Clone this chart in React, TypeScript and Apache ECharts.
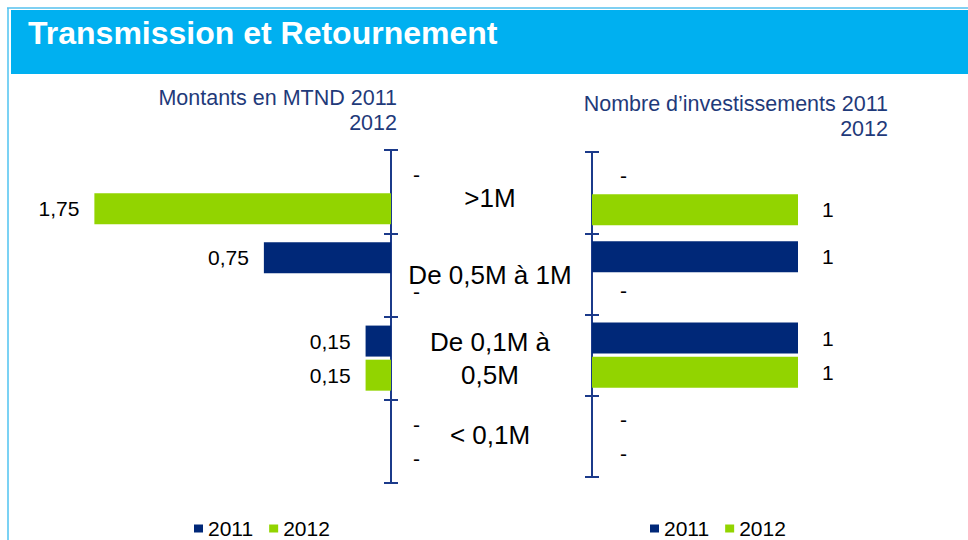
import React, { useEffect, useRef } from "react";
import * as echarts from "echarts";

const categories = [">1M", "De 0,5M à 1M", "De 0,1M à\n0,5M", "< 0,1M"];
const categoryShiftStyle = ["down", "mid", "mid", "up"];
const montants2011 = [0, 0.75, 0.15, 0];
const montants2012 = [1.75, 0, 0.15, 0];
const nombre2011 = [0, 1, 1, 0];
const nombre2012 = [1, 0, 1, 0];
const years = ["2011", "2012"];

const NAVY = "#002878";
const GREEN = "#92D400";
const AXIS = "#1B3A8A";
const FONT = "'Liberation Sans', Arial, sans-serif";

const fmt = (v: number) => String(v).replace(".", ",");

function buildData(arr: number[], zeroDist: number) {
  return arr.map((v) =>
    v === 0
      ? { value: 0, label: { position: "right", distance: zeroDist, formatter: "-" } }
      : v
  );
}

export default function App() {
  const ref = useRef<HTMLDivElement>(null);
  useEffect(() => {
    document.body.style.margin = "0";
    const chart = echarts.init(ref.current!, null, { renderer: "svg" });
    const axisLine = { show: true, lineStyle: { color: AXIS, width: 2 } };
    const catRich = {
      fontSize: 26,
      lineHeight: 33,
      color: "#000",
      fontFamily: FONT,
    };
    const yAxisBase = (grid: number, inside: boolean, showLabel: boolean) => ({
      type: "category",
      gridIndex: grid,
      inverse: true,
      position: grid === 0 ? "right" : "left",
      data: categories,
      axisLine,
      axisTick: { show: true, inside, length: 7, lineStyle: { color: AXIS, width: 2 } },
      axisLabel: showLabel
        ? {
            show: true,
            align: "center",
            verticalAlign: "middle",
            margin: 99,
            color: "#000",
            fontSize: 26,
            lineHeight: 33,
            fontFamily: FONT,
            formatter: (v: string, i: number) =>
              v
                .split("\n")
                .map((line) => `{${categoryShiftStyle[i]}|${line}}`)
                .join("\n"),
            rich: {
              down: { ...catRich, padding: [12, 0, 0, 0] },
              mid: { ...catRich },
              up: { ...catRich, padding: [0, 0, 12, 0] },
            },
          }
        : { show: false },
      splitLine: { show: false },
    });
    const labelCommon = { show: true, color: "#000", fontSize: 21, fontFamily: FONT };
    const subStyle = { fill: "#1F3A7A", font: `21.5px ${FONT}`, align: "right", verticalAlign: "middle" };
    const legendBase = {
      data: years,
      top: 513,
      icon: "rect",
      itemWidth: 9,
      itemHeight: 8,
      itemGap: 16,
      textStyle: { fontSize: 21, color: "#000", fontFamily: FONT },
    };
    chart.setOption({
      animation: false,
      backgroundColor: "#fff",
      textStyle: { fontFamily: FONT },
      graphic: [
        { type: "line", shape: { x1: 7, y1: 8, x2: 968, y2: 8 }, style: { stroke: "#7FD0F2", lineWidth: 2 } },
        { type: "line", shape: { x1: 8, y1: 8, x2: 8, y2: 540 }, style: { stroke: "#4FC3F0", lineWidth: 1.5 } },
        { type: "rect", shape: { x: 11, y: 10, width: 957, height: 64 }, style: { fill: "#00B0F0" } },
        {
          type: "text",
          x: 28,
          y: 33,
          style: {
            text: "Transmission et Retournement",
            fill: "#fff",
            font: `bold 32px ${FONT}`,
            verticalAlign: "middle",
          },
        },
        { type: "text", x: 397, y: 98, style: { text: "Montants en MTND 2011", ...subStyle } },
        { type: "text", x: 397, y: 123, style: { text: "2012", ...subStyle } },
        { type: "text", x: 888, y: 104, style: { text: "Nombre d’investissements 2011", ...subStyle } },
        { type: "text", x: 888, y: 129, style: { text: "2012", ...subStyle } },
      ],
      legend: [
        { ...legendBase, left: 189 },
        { ...legendBase, left: 645 },
      ],
      grid: [
        { left: 52, right: 577, top: 150, height: 333 },
        { left: 592, right: 67, top: 152, height: 325 },
      ],
      xAxis: [
        { type: "value", gridIndex: 0, min: 0, max: 2, inverse: true, show: false },
        { type: "value", gridIndex: 1, min: 0, max: 1.5, show: false },
      ],
      yAxis: [yAxisBase(0, false, true), yAxisBase(0, true, false), yAxisBase(1, false, false), yAxisBase(1, true, false)],
      series: [
        {
          type: "bar",
          name: "2011",
          xAxisIndex: 0,
          yAxisIndex: 0,
          data: buildData(montants2011, 22),
          itemStyle: { color: NAVY },
          barWidth: 31,
          barGap: "10%",
          label: { ...labelCommon, position: "left", distance: 15, formatter: (p: any) => fmt(p.value) },
        },
        {
          type: "bar",
          name: "2012",
          xAxisIndex: 0,
          yAxisIndex: 0,
          data: buildData(montants2012, 22),
          itemStyle: { color: GREEN },
          barWidth: 31,
          barGap: "10%",
          label: { ...labelCommon, position: "left", distance: 15, formatter: (p: any) => fmt(p.value) },
        },
        {
          type: "bar",
          name: "2011",
          xAxisIndex: 1,
          yAxisIndex: 2,
          data: buildData(nombre2011, 28),
          itemStyle: { color: NAVY },
          barWidth: 31,
          barGap: "10%",
          label: { ...labelCommon, position: "right", distance: 24, formatter: (p: any) => fmt(p.value) },
        },
        {
          type: "bar",
          name: "2012",
          xAxisIndex: 1,
          yAxisIndex: 2,
          data: buildData(nombre2012, 28),
          itemStyle: { color: GREEN },
          barWidth: 31,
          barGap: "10%",
          label: { ...labelCommon, position: "right", distance: 24, formatter: (p: any) => fmt(p.value) },
        },
      ],
    });
    return () => chart.dispose();
  }, []);
  return <div ref={ref} style={{ width: 968, height: 540 }} />;
}
